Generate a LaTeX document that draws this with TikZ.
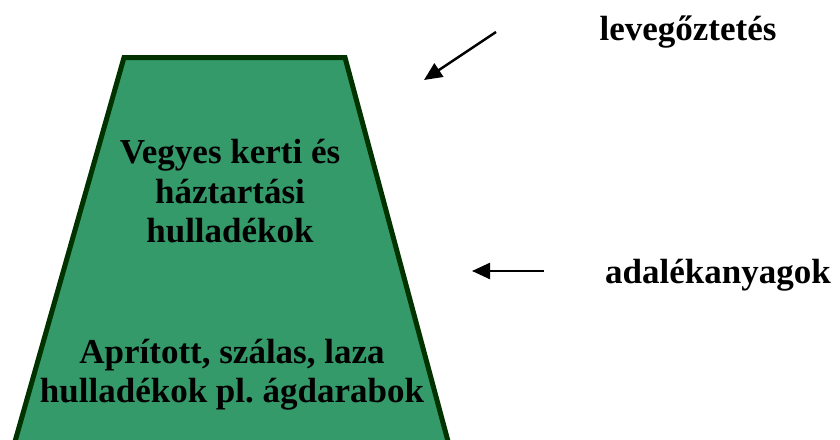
\documentclass[tikz,border=0pt]{standalone}
\usepackage{fontspec}
\setmainfont{Liberation Serif}
\usetikzlibrary{arrows.meta}
\definecolor{heapfill}{RGB}{53,154,106}
\definecolor{heapline}{RGB}{0,51,0}
\tikzset{
  lbl/.style={font=\bfseries\fontsize{35}{40}\selectfont\frenchspacing, text=black, inner sep=0pt, anchor=base},
  arr/.style={draw=black, line width=2.4pt, -{Triangle[length=18pt,width=16pt]}},
}
\begin{document}
\begin{tikzpicture}[x=1pt,y=-1pt]
\useasboundingbox (0,0) rectangle (840,439);
\clip (0,0) rectangle (840,439);
\coordinate (tl) at (124,57.5);
\coordinate (tr) at (345,57.5);
\coordinate (br) at (449,445);
\coordinate (bl) at (14,445);
\filldraw[fill=heapfill, draw=heapline, line width=5pt, line join=miter] (bl) -- (tl) -- (tr) -- (br);
\node[lbl] (l1) at (230,163) {Vegyes kerti és};
\node[lbl] (l2) at (230,203) {háztartási};
\node[lbl] (l3) at (230,242) {hulladékok};
\node[lbl] (l4) at (232,363) {Aprított, szálas, laza};
\node[lbl] (l5) at (232,402) {hulladékok pl. ágdarabok};
\node[lbl] (lev) at (688,40) {levegőztetés};
\node[lbl] (ada) at (718,283) {adalékanyagok};
\coordinate (a1s) at (496,32);
\coordinate (a1e) at (424,80);
\coordinate (a2s) at (544,271);
\coordinate (a2e) at (472,271);
\draw[arr] (a1s) -- (a1e);
\draw[arr] (a2s) -- (a2e);
\end{tikzpicture}
\end{document}
